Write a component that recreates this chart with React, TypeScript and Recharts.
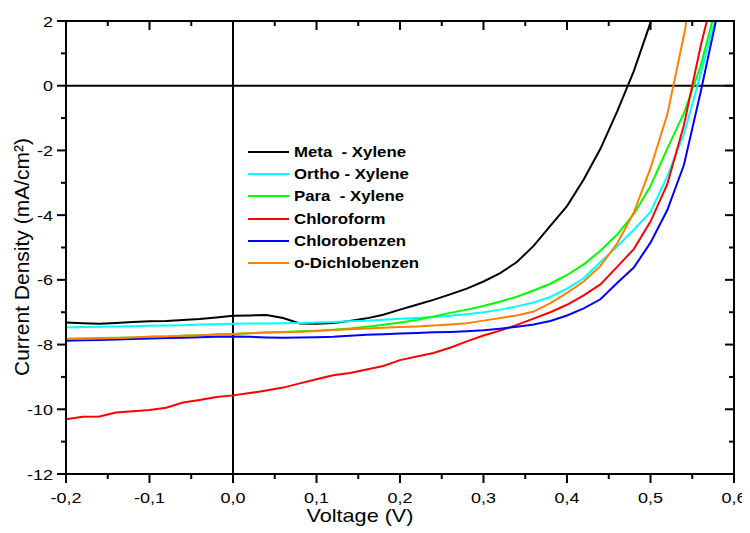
import React from 'react';
import { LineChart, Line, XAxis, YAxis, ReferenceLine, ReferenceArea } from 'recharts';

// ---- data ----
const voltage = [
  -0.2, -0.18, -0.16, -0.14, -0.12, -0.1, -0.08, -0.06, -0.04, -0.02,
  0.0, 0.02, 0.04, 0.06, 0.08, 0.1, 0.12, 0.14, 0.16, 0.18,
  0.2, 0.22, 0.24, 0.26, 0.28, 0.3, 0.32, 0.34, 0.36, 0.38,
  0.4, 0.42, 0.44, 0.46, 0.48, 0.5, 0.52, 0.54, 0.56, 0.58,
];

const metaXylene = [
  -7.32, -7.34, -7.36, -7.33, -7.3, -7.28, -7.27, -7.24, -7.21, -7.16,
  -7.11, -7.1, -7.09, -7.18, -7.35, -7.36, -7.33, -7.27, -7.19, -7.08,
  -6.92, -6.77, -6.62, -6.45, -6.27, -6.05, -5.79, -5.45, -4.95, -4.33,
  -3.72, -2.9, -1.95, -0.8, 0.45, 1.95, 3.6, null, null, null,
];

const orthoXylene = [
  -7.47, -7.46, -7.45, -7.44, -7.43, -7.42, -7.41, -7.4, -7.38, -7.37,
  -7.36, -7.35, -7.35, -7.34, -7.33, -7.32, -7.3, -7.28, -7.26, -7.23,
  -7.2, -7.18, -7.15, -7.11, -7.06, -7.0, -6.92, -6.82, -6.7, -6.53,
  -6.27, -5.95, -5.45, -4.97, -4.45, -3.9, -2.8, -1.5, 0.35, 2.3,
];

const paraXylene = [
  -7.82, -7.81, -7.8, -7.79, -7.78, -7.76, -7.75, -7.73, -7.71, -7.69,
  -7.67, -7.65, -7.63, -7.61, -7.59, -7.57, -7.54, -7.5, -7.45, -7.39,
  -7.32, -7.24, -7.13, -7.02, -6.92, -6.81, -6.67, -6.52, -6.33, -6.12,
  -5.85, -5.52, -5.1, -4.6, -3.97, -3.1, -1.95, -0.85, 0.6, 2.6,
];

const chloroform = [
  -10.31, -10.23, -10.22, -10.1, -10.06, -10.02, -9.95, -9.79, -9.71, -9.62,
  -9.57, -9.5, -9.42, -9.33, -9.2, -9.07, -8.95, -8.88, -8.77, -8.66,
  -8.48, -8.37, -8.26, -8.1, -7.9, -7.72, -7.57, -7.39, -7.2, -7.0,
  -6.77, -6.48, -6.14, -5.6, -5.05, -4.2, -3.05, -1.22, 1.22, 3.3,
];

const chlorobenzen = [
  -7.88, -7.87, -7.86, -7.84, -7.83, -7.81, -7.8, -7.79, -7.77, -7.76,
  -7.75, -7.76, -7.78, -7.79, -7.78, -7.77, -7.76, -7.73, -7.7, -7.68,
  -7.66, -7.64, -7.62, -7.61, -7.59, -7.56, -7.51, -7.45, -7.38, -7.27,
  -7.1, -6.88, -6.6, -6.1, -5.62, -4.85, -3.85, -2.45, -0.2, 2.2,
];

const oDichlobenzen = [
  -7.83, -7.82, -7.81, -7.8, -7.78, -7.76, -7.75, -7.73, -7.71, -7.69,
  -7.67, -7.65, -7.63, -7.62, -7.6, -7.58, -7.55, -7.53, -7.5, -7.48,
  -7.46, -7.44, -7.41, -7.38, -7.34, -7.26, -7.18, -7.1, -6.98, -6.72,
  -6.4, -6.05, -5.57, -4.88, -3.92, -2.55, -0.9, 1.55, 4.5, null,
];

const seriesKeys = ['meta', 'ortho', 'para', 'chloro', 'chlorobenz', 'odcb'];
const seriesNames = [
  'Meta  - Xylene',
  'Ortho - Xylene',
  'Para  - Xylene',
  'Chloroform',
  'Chlorobenzen',
  'o-Dichlobenzen',
];
const seriesColors = ['#000000', '#00FFFF', '#00FF00', '#FF0000', '#0000FF', '#FF8000'];
const seriesValues = [metaXylene, orthoXylene, paraXylene, chloroform, chlorobenzen, oDichlobenzen];

const xDomain = [-0.2, 0.6];
const yDomain = [-12, 2];
const xTicks = [-0.2, -0.15, -0.1, -0.05, 0, 0.05, 0.1, 0.15, 0.2, 0.25, 0.3, 0.35, 0.4, 0.45, 0.5, 0.55, 0.6];
const yTicks = [-12, -11, -10, -9, -8, -7, -6, -5, -4, -3, -2, -1, 0, 1, 2];

const xTitle = 'Voltage (V)';
const yTitle = 'Current Density (mA/cm²)';

// ---- layout & styling ----
const FONT = '"Liberation Sans", Arial, Helvetica, sans-serif';
const STRETCH = 1.2;
const MAJOR = 9;
const MINOR = 5;
const CHART_W = 742;
const CHART_H = 525;
const MARGIN = { top: 13, right: 16, bottom: 0, left: 0 };
const Y_AXIS_W = 58;
const X_AXIS_H = 59;
const PLOT_TOP = MARGIN.top;
const PLOT_RIGHT = CHART_W - MARGIN.right;
const PLOT_LEFT = MARGIN.left + Y_AXIS_W;
const PLOT_BOTTOM = CHART_H - MARGIN.bottom - X_AXIS_H;

const data = voltage.map((v, i) => {
  const row: Record<string, number | null> = { v };
  seriesKeys.forEach((k, s) => {
    row[k] = seriesValues[s][i];
  });
  return row;
});

const isMajorX = (v: number) => Math.abs(v * 10 - Math.round(v * 10)) < 1e-6;
const isMajorY = (v: number) => Math.round(v) % 2 === 0;
const fmtX = (v: number) => (Math.abs(v) < 1e-9 ? 0 : v).toFixed(1).replace('.', ',');

// bottom axis tick: outward tick + label, plus the matching inward tick on the top frame
const BottomTick = (props: any) => {
  const { x, y, payload } = props;
  const v = payload.value as number;
  const len = isMajorX(v) ? MAJOR : MINOR;
  return (
    <g>
      <line x1={x} x2={x} y1={y} y2={y + len} stroke="#000" strokeWidth={2} />
      <line x1={x} x2={x} y1={PLOT_TOP} y2={PLOT_TOP + len} stroke="#000" strokeWidth={2} />
      {isMajorX(v) && (
        <text
          transform={`translate(${x},${y + 29}) scale(${STRETCH},1)`}
          textAnchor="middle"
          fontSize={15}
          fontFamily={FONT}
          fill="#000"
        >
          {fmtX(v)}
        </text>
      )}
    </g>
  );
};

// left axis tick: outward tick + label, plus the matching inward tick on the right frame
const LeftTick = (props: any) => {
  const { x, y, payload } = props;
  const v = payload.value as number;
  const len = isMajorY(v) ? MAJOR : MINOR;
  return (
    <g>
      <line x1={x - len} x2={x} y1={y} y2={y} stroke="#000" strokeWidth={2} />
      <line x1={PLOT_RIGHT - len} x2={PLOT_RIGHT} y1={y} y2={y} stroke="#000" strokeWidth={2} />
      {isMajorY(v) && (
        <text
          transform={`translate(${x - 13},${y + 5.5}) scale(${STRETCH},1)`}
          textAnchor="end"
          fontSize={15}
          fontFamily={FONT}
          fill="#000"
        >
          {String(v)}
        </text>
      )}
    </g>
  );
};

const XTitle = (props: any) => {
  const vb = props.viewBox || {};
  const y = (vb.y ?? 466) + 48;
  return (
    <text
      transform={`translate(352,${y}) scale(${STRETCH},1)`}
      textAnchor="middle"
      fontSize={18}
      fontFamily={FONT}
      fill="#000"
    >
      {xTitle}
    </text>
  );
};

const YTitle = () => (
  <text
    transform={`translate(21,249) rotate(-90)`}
    textAnchor="middle"
    fontSize={21}
    fontFamily={FONT}
    fill="#000"
  >
    {yTitle}
  </text>
);

const Legend = () => (
  <>
    {seriesNames.map((name, i) => {
      const cy = 144 + i * 22.2;
      return (
        <React.Fragment key={name}>
          <div
            style={{
              position: 'absolute',
              left: 240,
              top: cy - 1,
              width: 41,
              height: 2,
              background: seriesColors[i],
            }}
          />
          <div
            style={{
              position: 'absolute',
              left: 286,
              top: cy - 9,
              height: 18,
              lineHeight: '18px',
              fontSize: 14,
              fontWeight: 'bold',
              fontFamily: FONT,
              whiteSpace: 'pre',
              color: '#000',
              transform: `scaleX(${STRETCH})`,
              transformOrigin: 'left center',
            }}
          >
            {name}
          </div>
        </React.Fragment>
      );
    })}
  </>
);

// plain border drawn around the plot area (layout box only)
const Frame = () => (
  <div
    style={{
      position: 'absolute',
      left: PLOT_LEFT - 1,
      top: PLOT_TOP - 1,
      width: PLOT_RIGHT - PLOT_LEFT + 2,
      height: PLOT_BOTTOM - PLOT_TOP + 2,
      border: '2px solid #000',
      boxSizing: 'border-box',
      pointerEvents: 'none',
    }}
  />
);

export default function App() {
  return (
    <div style={{ position: 'relative', width: CHART_W, height: CHART_H, background: '#fff' }}>
      <LineChart width={CHART_W} height={CHART_H} data={data} margin={MARGIN}>
        <XAxis
          dataKey="v"
          type="number"
          domain={xDomain}
          ticks={xTicks}
          interval={0}
          height={X_AXIS_H}
          tickSize={0}
          tickMargin={0}
          tickLine={false}
          axisLine={{ stroke: '#000', strokeWidth: 2 }}
          tick={<BottomTick />}
          label={<XTitle />}
        />
        <YAxis
          type="number"
          domain={yDomain}
          ticks={yTicks}
          interval={0}
          allowDataOverflow
          width={Y_AXIS_W}
          tickSize={0}
          tickMargin={0}
          tickLine={false}
          axisLine={{ stroke: '#000', strokeWidth: 2 }}
          tick={<LeftTick />}
          label={<YTitle />}
        />
        <ReferenceArea
          x1={xDomain[0]}
          x2={xDomain[1]}
          y1={yDomain[0]}
          y2={yDomain[1]}
          fill="none"
          fillOpacity={0}
          stroke="#000"
          strokeWidth={2}
        />
        <ReferenceLine y={yDomain[1]} stroke="#000" strokeWidth={2} />
        <ReferenceLine x={xDomain[1]} stroke="#000" strokeWidth={2} />
        <ReferenceLine y={0} stroke="#000" strokeWidth={2} />
        <ReferenceLine x={0} stroke="#000" strokeWidth={2} />
        {seriesKeys.map((k, i) => (
          <Line
            key={k}
            type="linear"
            dataKey={k}
            name={seriesNames[i]}
            stroke={seriesColors[i]}
            strokeWidth={2}
            dot={false}
            activeDot={false}
            isAnimationActive={false}
          />
        ))}
      </LineChart>
      <Frame />
      <Legend />
    </div>
  );
}
